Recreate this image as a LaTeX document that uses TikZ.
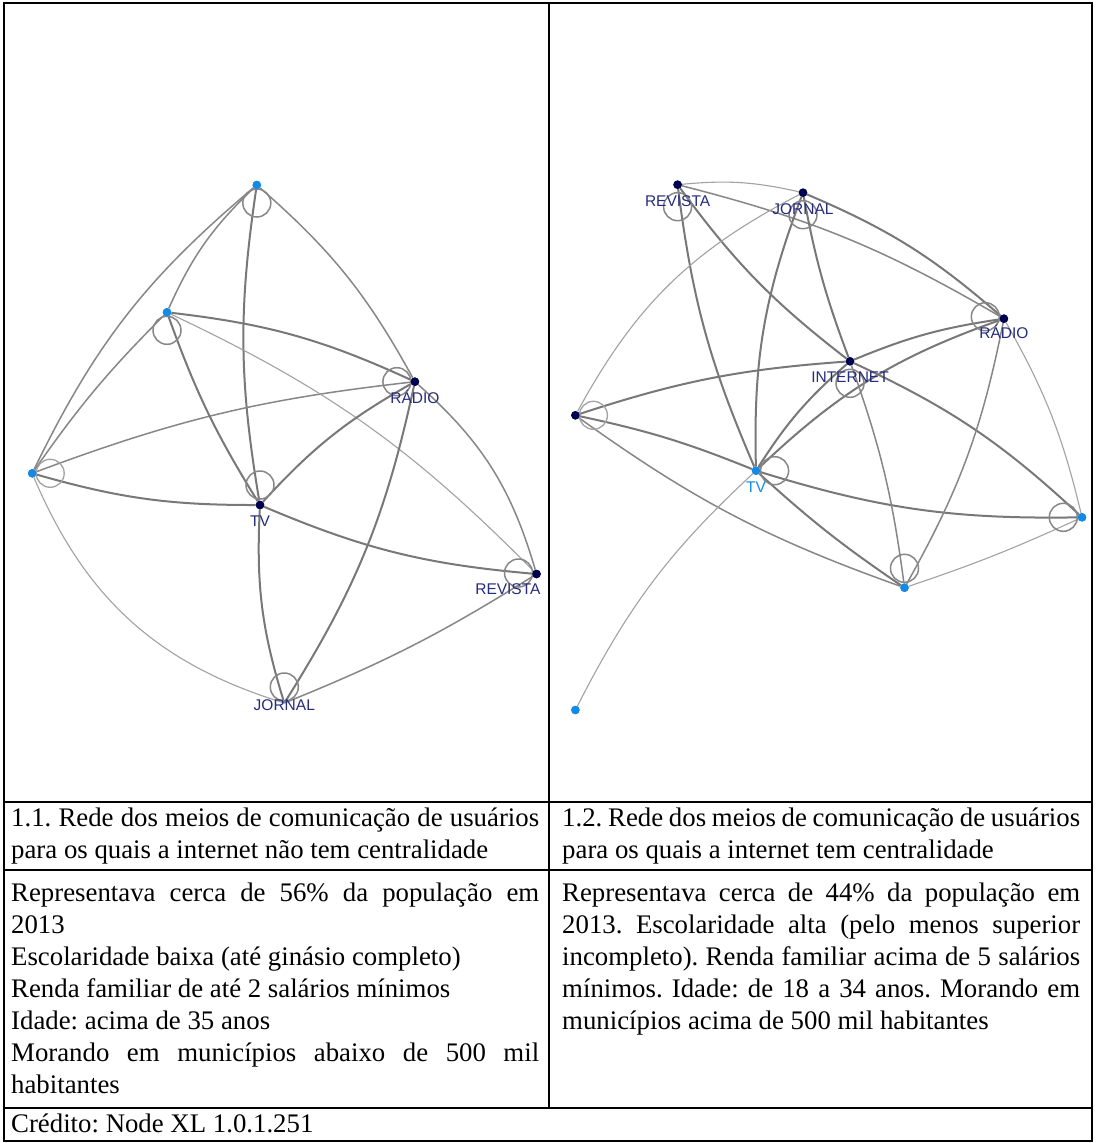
\documentclass[tikz,border=0pt]{standalone}
\usepackage{fontspec}
\setmainfont{Liberation Serif}
\newfontfamily\labfont{Liberation Sans}
\usetikzlibrary{calc}
\frenchspacing
\definecolor{navynode}{RGB}{0,0,80}
\definecolor{bluenode}{RGB}{20,138,230}
\definecolor{labnavy}{RGB}{38,44,125}
\definecolor{edgeA}{RGB}{120,120,120}
\definecolor{edgeB}{RGB}{135,135,135}
\definecolor{edgeC}{RGB}{162,162,162}
\tikzset{
 dn/.style={circle, fill=navynode, inner sep=0pt, minimum size=8.5pt},
 bn/.style={circle, fill=bluenode, inner sep=0pt, minimum size=8.5pt},
 ethick/.style={draw=edgeA, line width=2pt},
 emid/.style={draw=edgeB, line width=1.5pt},
 ethin/.style={draw=edgeC, line width=1.1pt},
 selfloop/.style={draw=edgeB, line width=1.5pt},
 lightloop/.style={draw=edgeC, line width=1.3pt},
 lab/.style={font=\labfont\fontsize{15.5}{16}\selectfont, text=labnavy, inner sep=0pt, anchor=base},
 cell/.style={anchor=north west, inner sep=0pt, align=justify,
   font=\fontsize{26.8}{32}\selectfont,
   execute at begin node={\setlength{\parindent}{0pt}\frenchspacing\hyphenpenalty=10000 \tolerance=9999 }},
 tabrule/.style={line width=2pt, draw=black},
}
\begin{document}
\begin{tikzpicture}[x=1pt,y=-1pt]
\useasboundingbox (0,0) rectangle (1096,1143);
\fill[white] (0,0) rectangle (1096,1143);
% ---------- table ----------
\draw[tabrule] (4,3) rectangle (1092,1141);
\draw[tabrule] (549,3) -- (549,1108);
\draw[tabrule] (4,802) -- (1092,802);
\draw[tabrule] (4,870) -- (1092,870);
\draw[tabrule] (4,1108) -- (1092,1108);

\node[cell, text width=528pt] (h1) at (11,808)
 {1.1. Rede dos meios de comunicação de usuários\linebreak para os quais a internet não tem centralidade};
\node[cell, text width=518pt] (h2) at (562,808)
 {1.2. Rede dos meios de comunicação de usuários\linebreak para os quais a internet tem centralidade};
\node[cell, text width=528pt] (b1) at (11,883)
 {Representava cerca de 56\% da população em\linebreak 2013\par
  Escolaridade baixa (até ginásio completo)\par
  Renda familiar de até 2 salários mínimos\par
  Idade: acima de 35 anos\par
  Morando em municípios abaixo de 500 mil\linebreak habitantes};
\node[cell, text width=518pt] (b2) at (562,883)
 {Representava cerca de 44\% da população em\linebreak 2013. Escolaridade alta (pelo menos superior\linebreak incompleto). Renda familiar acima de 5 salários\linebreak mínimos. Idade: de 18 a 34 anos. Morando em\linebreak municípios acima de 500 mil habitantes};
\node[cell, text width=600pt] (cr) at (11,1114) {Crédito: Node XL 1.0.1.251};

% ---------- left graph ----------
\node[bn] (T) at (256.8,185) {};
\node[bn] (B) at (167,312.3) {};
\node[bn] (L) at (32.2,473.3) {};
\node[dn] (R) at (414.9,381.7) {};
\node[dn] (TV) at (260,505) {};
\node[dn] (V) at (536.5,574) {};
\coordinate (J) at (284.3,703);

\draw[emid] (T) to[bend right=12] (L);
\draw[emid] (T) to[bend right=11] (B);
\draw[emid] (B) to[bend right=5] (L);
\draw[ethick] (T) to[bend right=9] (TV);
\draw[emid] (T) to[bend left=10] (R);
\draw[emid] (L) to[bend left=7] (R);
\draw[ethick] (L) to[bend right=8] (TV);
\draw[ethin] (L) to[bend right=25] (J);
\draw[ethick] (B) to[bend left=9] (R);
\draw[ethin] (B) to[bend left=10] (V);
\draw[ethick] (B) to[bend right=6] (TV);
\draw[ethick] (R) to[bend right=9] (TV);
\draw[ethick] (R) to[bend left=10] (J);
\draw[emid] (R) to[bend left=16] (V);
\draw[ethick] (TV) to[bend right=9] (V);
\draw[ethick] (TV) to[bend right=10] (J);
\draw[emid] (V) to[bend left=5] (J);

\draw[selfloop] ($(T)+(0,18)$) circle[radius=14];
\draw[selfloop] ($(B)+(0,18)$) circle[radius=14];
\draw[lightloop] ($(L)+(18,0)$) circle[radius=14];
\draw[selfloop] ($(R)+(-18,0)$) circle[radius=14];
\draw[selfloop] ($(TV)+(0,-20)$) circle[radius=14];
\draw[selfloop] ($(V)+(-18,-1)$) circle[radius=14];
\draw[selfloop] ($(J)+(0,-16)$) circle[radius=14];

\node[bn] at (T) {};
\node[bn] at (B) {};
\node[bn] at (L) {};
\node[dn] at (R) {};
\node[dn] at (TV) {};
\node[dn] at (V) {};

\node[lab] (lR) at (414.9,403.8) {RÁDIO};
\node[lab] (lTV) at (260,526.2) {TV};
\node[lab] (lV) at (507.9,594.8) {REVISTA};
\node[lab] (lJ) at (284.3,710.5) {JORNAL};

% ---------- right graph ----------
\node[dn] (RV) at (677.6,184.7) {};
\node[dn] (JN) at (803,192.7) {};
\node[dn] (RD) at (1003.9,318.7) {};
\node[dn] (IN) at (850,361.3) {};
\node[dn] (LD) at (575.4,415.3) {};
\node[bn] (TR) at (756,470.7) {};
\node[bn] (RB) at (1082,517.3) {};
\node[bn] (BB) at (904.5,587.7) {};
\node[bn] (BL) at (575.4,710) {};

\draw[ethin] (RV) to[bend left=9] (JN);
\draw[ethick] (JN) to[bend left=9] (RD);
\draw[emid] (RV) to[bend left=8] (RD);
\draw[ethick] (RV) to[bend right=8] (TR);
\draw[ethick] (RV) to[bend right=8] (IN);
\draw[ethick] (JN) to[bend right=11] (TR);
\draw[ethick] (JN) to[bend right=5] (IN);
\draw[ethin] (JN) to[bend right=17] (LD);
\draw[ethick] (IN) to[bend left=7] (RD);
\draw[ethick] (TR) to[bend left=12] (RD);
\draw[ethick] (TR) to[bend left=8] (IN);
\draw[ethick] (LD) to[bend left=7] (IN);
\draw[ethick] (LD) to[bend left=5] (TR);
\draw[emid] (LD) to[bend right=8] (BB);
\draw[ethin] (BL) to[bend left=10] (TR);
\draw[ethick] (TR) to[bend right=9] (RB);
\draw[ethick] (TR) to[bend right=4] (BB);
\draw[emid] (IN) to[bend left=6] (BB);
\draw[ethick] (IN) to[bend left=9] (RB);
\draw[emid] (RD) to[bend left=9] (BB);
\draw[ethin] (RD) to[bend left=8] (RB);
\draw[ethin] (BB) to[bend right=3] (RB);

\draw[selfloop] ($(RV)+(0,22)$) circle[radius=14];
\draw[selfloop] ($(JN)+(0,22)$) circle[radius=14];
\draw[selfloop] ($(RD)+(-18.6,-2)$) circle[radius=14];
\draw[selfloop] ($(IN)+(0,22)$) circle[radius=14];
\draw[lightloop] ($(LD)+(18,0)$) circle[radius=14];
\draw[selfloop] ($(TR)+(18.6,0)$) circle[radius=14];
\draw[selfloop] ($(RB)+(-18.7,0)$) circle[radius=14];
\draw[selfloop] ($(BB)+(0,-19.4)$) circle[radius=14];

\foreach \n in {RV,JN,RD,IN,LD} {\node[dn] at (\n) {};}
\foreach \n in {TR,RB,BB,BL} {\node[bn] at (\n) {};}

\node[lab] (lRV) at (677.6,206.2) {REVISTA};
\node[lab] (lJN) at (803,214.8) {JORNAL};
\node[lab] (lRD) at (1003.9,338.8) {RÁDIO};
\node[lab] (lIN) at (850,382.2) {INTERNET};
\node[lab, text=bluenode] (lTR) at (756,492.8) {TV};
\end{tikzpicture}
\end{document}
